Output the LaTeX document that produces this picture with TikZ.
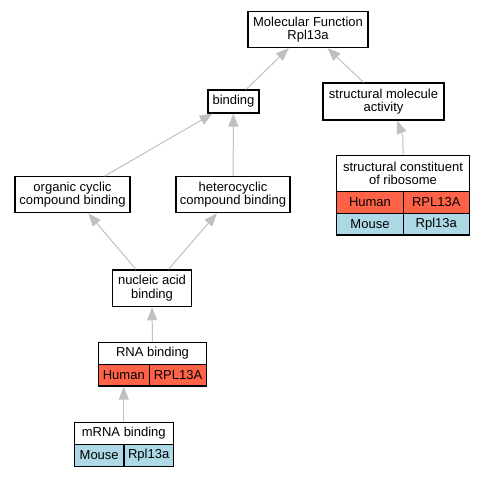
\documentclass[tikz,border=0pt]{standalone}
\usepackage{fontspec}
\setmainfont{Liberation Sans}
\usetikzlibrary{arrows.meta}
\definecolor{tomato}{HTML}{FF6347}
\definecolor{lblue}{HTML}{ADD8E6}
\definecolor{edgegray}{HTML}{C0C0C0}

\begin{document}
\begin{tikzpicture}[x=1pt,y=-1pt,
  term/.style={draw=black,line width=1.2pt,fill=white,inner sep=0pt,align=center,
    font=\fontsize{13}{13.5}\selectfont},
  human/.style={term,fill=tomato},
  mouse/.style={term,fill=lblue},
  isa/.style={draw=edgegray,line width=1pt,-{Triangle[length=13pt,width=10pt]}}]
\useasboundingbox (0,0) rectangle (484,477);

% GO terms
\node[term,minimum width=120pt,minimum height=36pt] (mf) at (308,29.5) {Molecular Function\\Rpl13a};
\node[term,minimum width=51pt,minimum height=23pt] (bind) at (233.5,101.5) {binding};
\node[term,minimum width=121pt,minimum height=37pt] (sma) at (383.5,101.5) {structural molecule\\activity};
\node[term,minimum width=115pt,minimum height=36pt] (org) at (72.5,194.7) {organic cyclic\\compound binding};
\node[term,minimum width=114pt,minimum height=36pt] (het) at (233,194.7) {heterocyclic\\compound binding};
\node[term,minimum width=79.4pt,minimum height=36.7pt] (nuc) at (152,288.3) {nucleic acid\\binding};

% structural constituent of ribosome, with genes
\node[term,minimum width=132.6pt,minimum height=36.4pt] (scr) at (403,173.5) {structural constituent\\of ribosome};
\node[human,minimum width=66.6pt,minimum height=21.6pt] (scrh) at (370,202.5) {Human};
\node[human,minimum width=66pt,minimum height=21.6pt] (scrhg) at (436.3,202.5) {RPL13A};
\node[mouse,minimum width=66.6pt,minimum height=21.7pt] (scrm) at (370,224.2) {Mouse};
\node[mouse,minimum width=66pt,minimum height=21.7pt] (scrmg) at (436.3,224.2) {Rpl13a};

% RNA binding
\node[term,minimum width=108.4pt,minimum height=22pt] (rna) at (152.5,353.3) {RNA binding};
\node[human,minimum width=51pt,minimum height=21.7pt] (rnah) at (123.8,375.2) {Human};
\node[human,minimum width=57.4pt,minimum height=21.7pt] (rnahg) at (178,375.2) {RPL13A};

% mRNA binding
\node[term,minimum width=99pt,minimum height=22pt] (mrna) at (123.8,433.3) {mRNA binding};
\node[mouse,minimum width=49.7pt,minimum height=22.4pt] (mrnam) at (99.2,455.5) {Mouse};
\node[mouse,minimum width=49.3pt,minimum height=22.4pt] (mrnamg) at (148.7,455.5) {Rpl13a};

% is_a edges
\draw[isa] (bind) -- (mf);
\draw[isa] (sma) -- (mf);
\draw[isa] (scr.north) .. controls (403,136) .. ([xshift=13.5pt]sma.south);
\draw[isa] (org) -- (bind);
\draw[isa] (het) -- (bind);
\draw[isa] (nuc) -- (org);
\draw[isa] (nuc) -- (het);
\draw[isa] (rna.north) -- (nuc.south);
\draw[isa] (mrna.north) -- (rnah.south);
\end{tikzpicture}
\end{document}
